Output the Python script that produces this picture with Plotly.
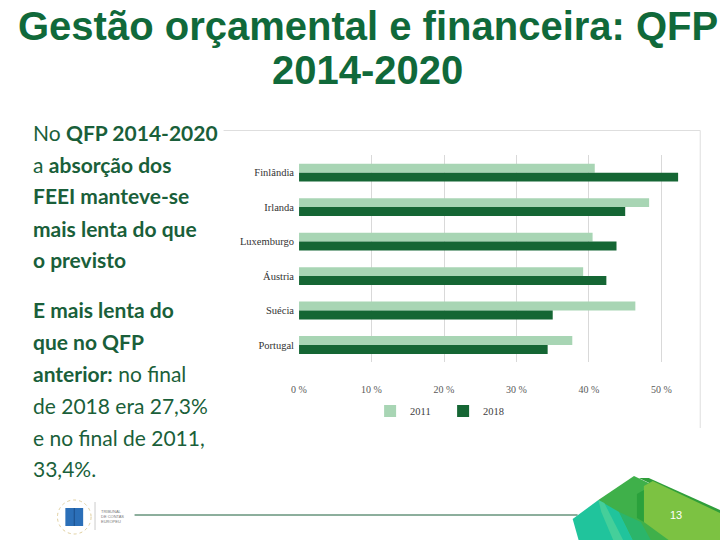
import plotly.graph_objects as go

# ---------------- data ----------------
categories = ["Finlândia", "Irlanda", "Luxemburgo", "Áustria", "Suécia", "Portugal"]
values_2011 = [40.8, 48.3, 40.5, 39.2, 46.4, 37.7]
values_2018 = [52.3, 45.0, 43.8, 42.4, 35.0, 34.3]
series_names = ["2011", "2018"]
x_ticks = [0, 10, 20, 30, 40, 50]
x_tick_labels = ["0 %", "10 %", "20 %", "30 %", "40 %", "50 %"]

title_lines = ["Gestão orçamental e financeira: QFP", "2014-2020"]
body_lines = [
    "No <b>QFP 2014-2020</b>",
    "a <b>absorção dos</b>",
    "<b>FEEI manteve-se</b>",
    "<b>mais lenta do que</b>",
    "<b>o previsto</b>",
    "<b>E mais lenta do</b>",
    "<b>que no QFP</b>",
    "<b>anterior:</b> no final",
    "de 2018 era 27,3%",
    "e no final de 2011,",
    "33,4%.",
]
page_number = "13"

W, H = 720, 540
def px(x):
    return x / W
def py(y):
    return 1 - y / H

LIGHT = "#a8d5b4"
DARK = "#156634"
TEXT_GREEN = "#1a5f3a"

fig = go.Figure()
fig.add_trace(go.Bar(y=categories, x=values_2011, name=series_names[0], orientation="h",
                     marker=dict(color=LIGHT, line=dict(width=0))))
fig.add_trace(go.Bar(y=categories, x=values_2018, name=series_names[1], orientation="h",
                     marker=dict(color=DARK, line=dict(width=0))))

serif = "Liberation Serif"
fig.update_layout(
    width=W, height=H,
    margin=dict(l=0, r=0, t=0, b=0),
    paper_bgcolor="white", plot_bgcolor="white",
    barmode="group", bargap=0.48, bargroupgap=0,
    showlegend=True,
    legend=dict(orientation="h", x=px(440), xanchor="center", y=py(411), yanchor="middle",
                font=dict(family=serif, size=10.5, color="#404040"), itemwidth=30,
                entrywidth=28, entrywidthmode="pixels",
                bgcolor="rgba(0,0,0,0)"),
    xaxis=dict(domain=[px(294.3), px(700)], range=[0, 55.35], tickvals=x_ticks,
               ticktext=x_tick_labels, showgrid=True, gridcolor="#d9d9d9", gridwidth=1,
               zeroline=False, showline=False, ticks="", ticklabelstandoff=20,
               tickfont=dict(family=serif, size=10, color="#595959"), fixedrange=True),
    yaxis=dict(domain=[py(362.3), py(155.4)], autorange="reversed", showgrid=False,
               zeroline=False, showline=False, ticks="", ticklabelstandoff=4,
               tickfont=dict(family=serif, size=10.5, color="#333333"), fixedrange=True),
)

annotations = []
# title
for line, yy in zip(title_lines, [26, 70]):
    annotations.append(dict(text="<b>" + line + "</b>", x=px(364), y=py(yy), xref="paper", yref="paper",
                            xanchor="center", yanchor="middle", showarrow=False,
                            font=dict(family="Liberation Sans", size=40, color="#10693a")))
# body text
body_y = [133, 164, 196, 228, 259, 309, 341, 373, 405, 437, 468]
for line, yy in zip(body_lines, body_y):
    annotations.append(dict(text=line, x=px(23), y=py(yy), xref="paper", yref="paper",
                            xanchor="left", yanchor="middle", showarrow=False, align="left",
                            font=dict(family="Lato", size=21, color=TEXT_GREEN)))
# logo small text
annotations.append(dict(text="TRIBUNAL<br>DE CONTAS<br>EUROPEU", x=px(92), y=py(516), xref="paper", yref="paper",
                        xanchor="left", yanchor="middle", showarrow=False, align="left",
                        font=dict(family="Liberation Sans", size=4, color="#777777")))
# page number
annotations.append(dict(text=page_number, x=px(675), y=py(515), xref="paper", yref="paper",
                        xanchor="center", yanchor="middle", showarrow=False,
                        font=dict(family="Liberation Sans", size=11, color="white")))

def poly(points):
    return "M " + " L ".join(f"{px(x):.5f},{py(y):.5f}" for x, y in points) + " Z"

shapes = []
# chart image frame (top and right edges)
shapes.append(dict(type="line", xref="paper", yref="paper", x0=px(218), x1=px(700), y0=py(130.5), y1=py(130.5),
                   line=dict(color="#dedede", width=1)))
shapes.append(dict(type="line", xref="paper", yref="paper", x0=px(700), x1=px(700), y0=py(130.5), y1=py(428),
                   line=dict(color="#dedede", width=1)))
# footer line
shapes.append(dict(type="line", xref="paper", yref="paper", x0=px(128), x1=px(576), y0=py(515), y1=py(515),
                   line=dict(color="#1a5e3a", width=1)))
# logo
shapes.append(dict(type="circle", xref="paper", yref="paper", x0=px(50), x1=px(84), y0=py(534), y1=py(500),
                   line=dict(color="#e0cf9e", width=1, dash="dot"), fillcolor="white"))
shapes.append(dict(type="rect", xref="paper", yref="paper", x0=px(58), x1=px(76), y0=py(526), y1=py(508),
                   line=dict(width=0), fillcolor="#2b6fb8"))
shapes.append(dict(type="line", xref="paper", yref="paper", x0=px(67), x1=px(67), y0=py(526), y1=py(508),
                   line=dict(color="#1b4f8a", width=1)))
shapes.append(dict(type="line", xref="paper", yref="paper", x0=px(88), x1=px(88), y0=py(502), y1=py(530),
                   line=dict(color="#cccccc", width=1)))
# decorative green blocks bottom right
shapes.append(dict(type="path", xref="paper", yref="paper", path=poly([(597, 500), (633, 476), (720, 517), (720, 540), (600, 540)]),
                   fillcolor="#3fb04a", line=dict(width=0)))
shapes.append(dict(type="path", xref="paper", yref="paper", path=poly([(638, 478), (648, 478), (720, 510), (720, 517)]),
                   fillcolor="#2f9e3a", line=dict(width=0)))
shapes.append(dict(type="path", xref="paper", yref="paper", path=poly([(643, 486), (652, 481), (720, 513), (720, 540), (668, 540), (643, 522)]),
                   fillcolor="#7cc242", line=dict(width=0)))
shapes.append(dict(type="path", xref="paper", yref="paper", path=poly([(636, 494), (643, 490), (643, 522), (636, 518)]),
                   fillcolor="#2aa13c", line=dict(width=0)))
shapes.append(dict(type="path", xref="paper", yref="paper", path=poly([(571, 519), (597, 500), (618, 512), (632, 540), (577, 540)]),
                   fillcolor="#20c49c", line=dict(width=0)))
shapes.append(dict(type="path", xref="paper", yref="paper", path=poly([(597, 500), (603, 503), (622, 540), (612, 540), (600, 512)]),
                   fillcolor="#45cf9a", line=dict(width=0)))
shapes.append(dict(type="path", xref="paper", yref="paper", path=poly([(618, 512), (640, 522), (650, 540), (632, 540)]),
                   fillcolor="#2bb56a", line=dict(width=0)))

fig.update_layout(annotations=annotations, shapes=shapes)

fig.write_html("out.html", config={"displayModeBar": False},
               post_script="document.body.style.margin='0';document.body.style.overflow='hidden';")
